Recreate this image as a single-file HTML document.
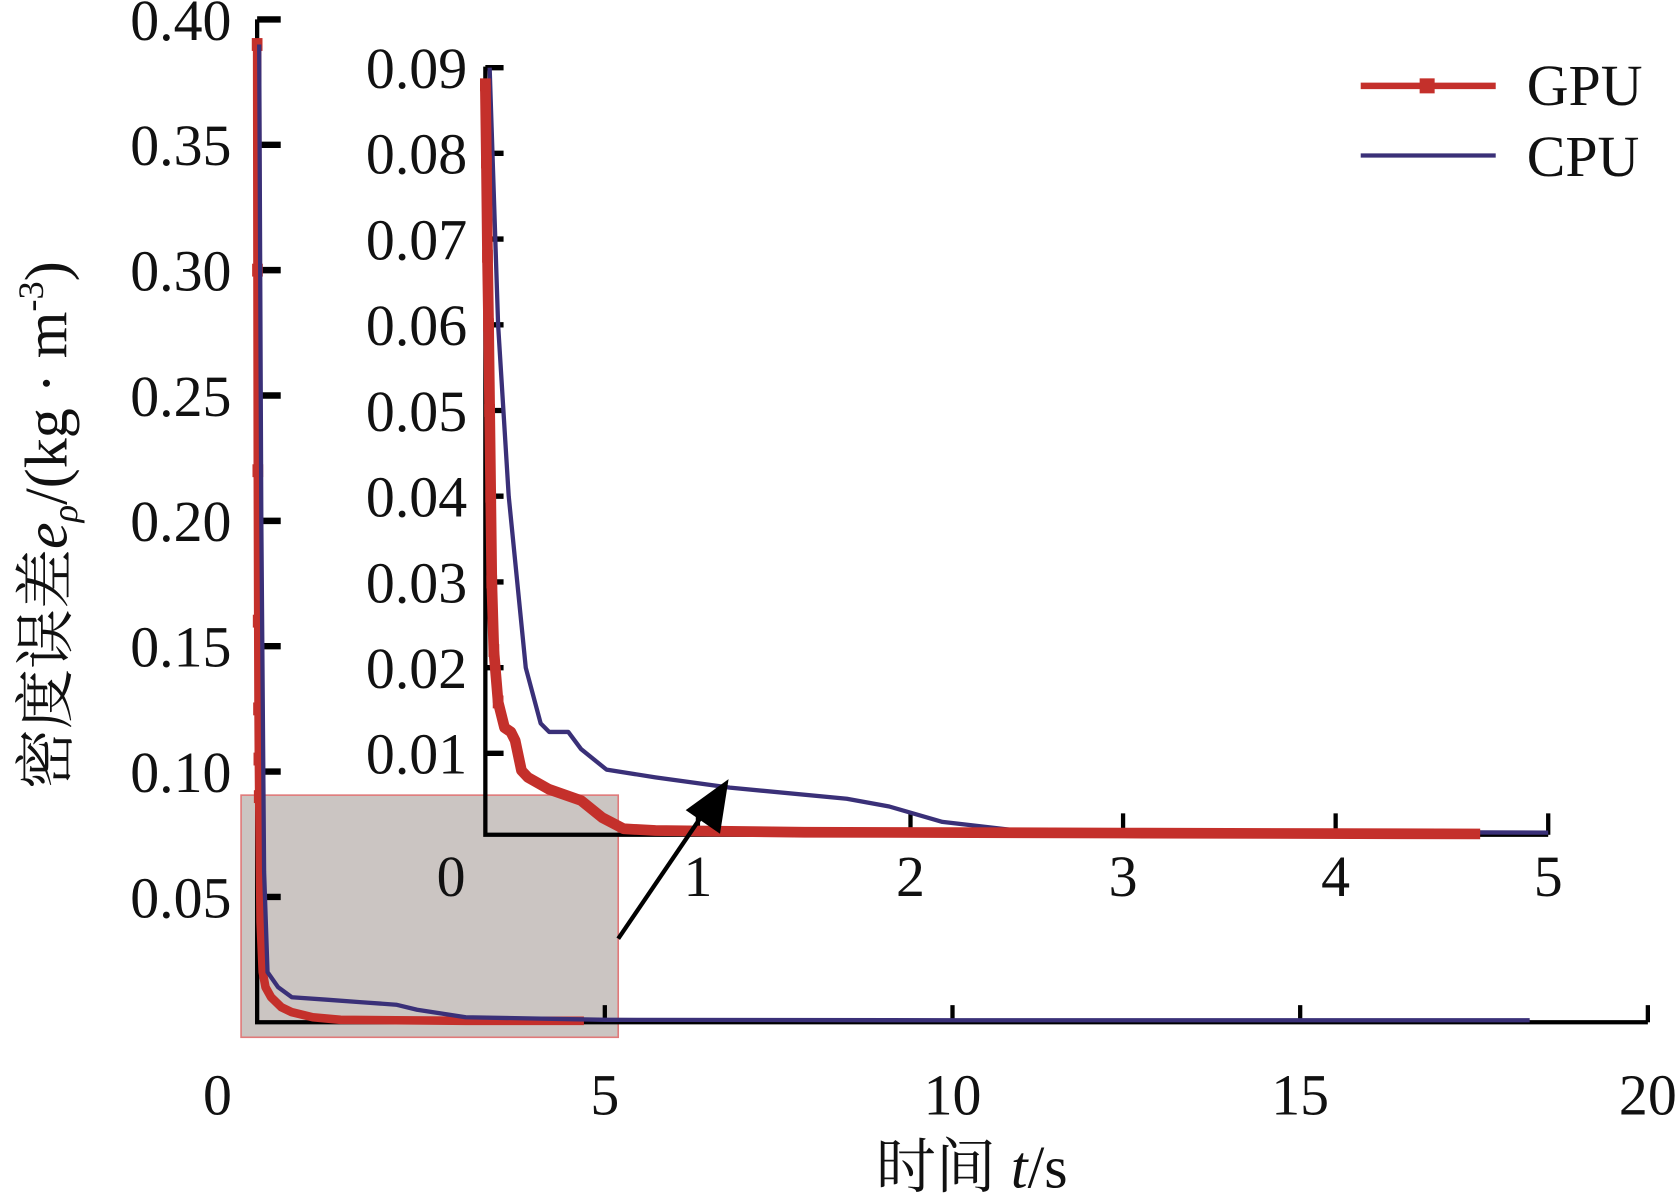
<!DOCTYPE html>
<html><head><meta charset="utf-8"><style>
html,body{margin:0;padding:0;background:#fff;}
svg{display:block;}
text{font-family:"Liberation Serif","Noto Serif CJK SC",serif;fill:#111;}
</style></head><body>
<svg id="chart" width="1680" height="1196" viewBox="0 0 1568 1116" xmlns="http://www.w3.org/2000/svg">
<g id="layer"></g>
</svg>
<script>
// Main chart data
const mainTime = [0, 0.005, 0.01, 0.015, 0.02, 0.025, 0.03, 0.05, 0.08, 0.12, 0.2, 0.35, 0.5, 0.8, 1.2, 2.0, 3.0, 4.7];
const mainGpu  = [0.39, 0.30, 0.22, 0.16, 0.125, 0.105, 0.09, 0.04, 0.02, 0.014, 0.01, 0.006, 0.004, 0.002, 0.001, 0.0008, 0.0006, 0.0006];
const mainCpuT = [0.03, 0.06, 0.1, 0.15, 0.3, 0.5, 1.0, 1.5, 2.0, 2.3, 3.0, 5.0, 10, 18.3];
const mainCpu  = [0.39, 0.2, 0.06, 0.02, 0.014, 0.01, 0.009, 0.008, 0.007, 0.005, 0.002, 0.001, 0.0008, 0.0008];
const mainYTicks = [0.05, 0.10, 0.15, 0.20, 0.25, 0.30, 0.35, 0.40];
const mainXTicks = [0, 5, 10, 15, 20];
// Inset data
const insetGpuT = [0.0, 0.005, 0.01, 0.015, 0.02, 0.025, 0.03, 0.04, 0.06, 0.09, 0.12, 0.14, 0.17, 0.2, 0.3, 0.45, 0.55, 0.65, 0.8, 1.5, 3.0, 4.68];
const insetGpu  = [0.088, 0.079, 0.068, 0.06, 0.05, 0.04, 0.03, 0.022, 0.016, 0.013, 0.0125, 0.0115, 0.008, 0.0072, 0.0058, 0.0045, 0.0025, 0.0012, 0.001, 0.0008, 0.0007, 0.0006];
const insetCpuT = [0.02, 0.06, 0.11, 0.19, 0.26, 0.3, 0.39, 0.45, 0.57, 0.8, 1.15, 1.7, 1.9, 2.15, 2.5, 3.0, 5.0];
const insetCpu  = [0.09, 0.06, 0.04, 0.02, 0.0135, 0.0125, 0.0125, 0.0105, 0.0081, 0.0072, 0.006, 0.0047, 0.0038, 0.002, 0.001, 0.0009, 0.00075];
const insetYTicks = [0.01, 0.02, 0.03, 0.04, 0.05, 0.06, 0.07, 0.08, 0.09];
const insetXTicks = [0, 1, 2, 3, 4, 5];

const NS = "http://www.w3.org/2000/svg";
const layer = document.getElementById('layer');
function mk(tag, attrs, parent) {
  const e = document.createElementNS(NS, tag);
  for (const k in attrs) e.setAttribute(k, attrs[k]);
  (parent || layer).appendChild(e);
  return e;
}
const mx = t => 240 + t * 64.9;
const my = v => 954 - v * 2340;
const ix = t => 453 + t * 198.4;
const iy = v => 783 - v * 8000;
const RED = '#c4302b', BLUE = '#3a3078';
const FS = 54;
function pts(xs, ys, fx, fy) { return xs.map((t, i) => fx(t).toFixed(1) + ',' + fy(ys[i]).toFixed(1)).join(' '); }

let r = mk('rect', {x:225, y:742, width:352, height:226, fill:'#cbc5c2', stroke:'#e07a7a', 'stroke-width':1.5});



let ax = mk('path', {d:'M240,18 L240,954 L1538,954', fill:'none', stroke:'#000', 'stroke-width':4});


mainYTicks.forEach(v => {
  let tk = mk('line', {x1:240, x2:262, y1:my(v), y2:my(v), stroke:'#000', 'stroke-width':6});
  
  
  let tx = mk('text', {x:216, y:my(v) + 19, 'text-anchor':'end', 'font-size':FS});
  tx.textContent = v.toFixed(2);
  
  
});
mainXTicks.forEach(t => {
  if (t > 0) {
    let tk = mk('line', {x1:mx(t), x2:mx(t), y1:954, y2:938, stroke:'#000', 'stroke-width':4});
    
    
  }
  let tx = mk('text', {x: t === 0 ? 203 : mx(t), y:1040, 'text-anchor':'middle', 'font-size':FS});
  tx.textContent = t;
  
  
});

let g1 = mk('polyline', {points:pts(mainTime, mainGpu, mx, my), fill:'none', stroke:RED, 'stroke-width':8, 'stroke-linejoin':'round'});


mainTime.forEach((t, i) => {
  if (mainGpu[i] > 0.05) {
    let m = mk('rect', {x:mx(t) - 5, y:my(mainGpu[i]) - 6, width:10, height:12, fill:RED});
    
    
  }
});
let c1 = mk('polyline', {points:pts(mainCpuT, mainCpu, mx, my), fill:'none', stroke:BLUE, 'stroke-width':4, 'stroke-linejoin':'round'});



let ax2 = mk('path', {d:'M453,62 L453,779 L1445,779', fill:'none', stroke:'#000', 'stroke-width':4});


insetYTicks.forEach(v => {
  let tk = mk('line', {x1:453, x2:470, y1:iy(v), y2:iy(v), stroke:'#000', 'stroke-width':5});
  
  
  let tx = mk('text', {x:436, y:iy(v) + 19, 'text-anchor':'end', 'font-size':FS});
  tx.textContent = v.toFixed(2);
  
  
});
insetXTicks.forEach(t => {
  if (t > 0) {
    let tk = mk('line', {x1:ix(t), x2:ix(t), y1:779, y2:759, stroke:'#000', 'stroke-width':4});
    
    
  }
  let tx = mk('text', {x: t === 0 ? 421 : ix(t), y:836, 'text-anchor':'middle', 'font-size':FS});
  tx.textContent = t;
  
  
});
let c2 = mk('polyline', {points:pts(insetCpuT, insetCpu, ix, iy), fill:'none', stroke:BLUE, 'stroke-width':4, 'stroke-linejoin':'round'});


let g2 = mk('polyline', {points:pts(insetGpuT, insetGpu, ix, iy), fill:'none', stroke:RED, 'stroke-width':10, 'stroke-linejoin':'round'});


insetGpuT.forEach((t, i) => {
  if (insetGpu[i] > 0.015) {
    let m = mk('rect', {x:ix(t) - 5, y:iy(insetGpu[i]) - 6, width:10, height:12, fill:RED});
    
    
  }
});

let ar = mk('line', {x1:577, y1:876, x2:660, y2:754, stroke:'#000', 'stroke-width':4});


let ah = mk('polygon', {points:'680,727 672,778 640,756', fill:'#000'});



let lg = mk('g', {});


let l1 = mk('line', {x1:1270, x2:1396, y1:80, y2:80, stroke:RED, 'stroke-width':6}, lg);


let l1m = mk('rect', {x:1325, y:73, width:14, height:14, fill:RED}, lg);


let t1 = mk('text', {x:1425, y:98, 'font-size':FS}, lg);
t1.textContent = 'GPU';


let l2 = mk('line', {x1:1270, x2:1396, y1:145, y2:145, stroke:BLUE, 'stroke-width':4}, lg);


let t2 = mk('text', {x:1425, y:164, 'font-size':FS}, lg);
t2.textContent = 'CPU';



let xt = mk('text', {x:907, y:1108, 'text-anchor':'middle', 'font-size':56});
xt.innerHTML = '时间 <tspan font-style="italic">t</tspan>/s';


let yt = mk('text', {x:0, y:0, 'text-anchor':'middle', 'font-size':56, transform:'translate(62,490) rotate(-90)'});
yt.innerHTML = '密度误差<tspan font-style="italic">e</tspan><tspan font-style="italic" font-size="34" dy="10">ρ</tspan><tspan dy="-10">/(kg · m</tspan><tspan font-size="34" dy="-22">-3</tspan><tspan dy="22">)</tspan>';


</script>
</body></html>
